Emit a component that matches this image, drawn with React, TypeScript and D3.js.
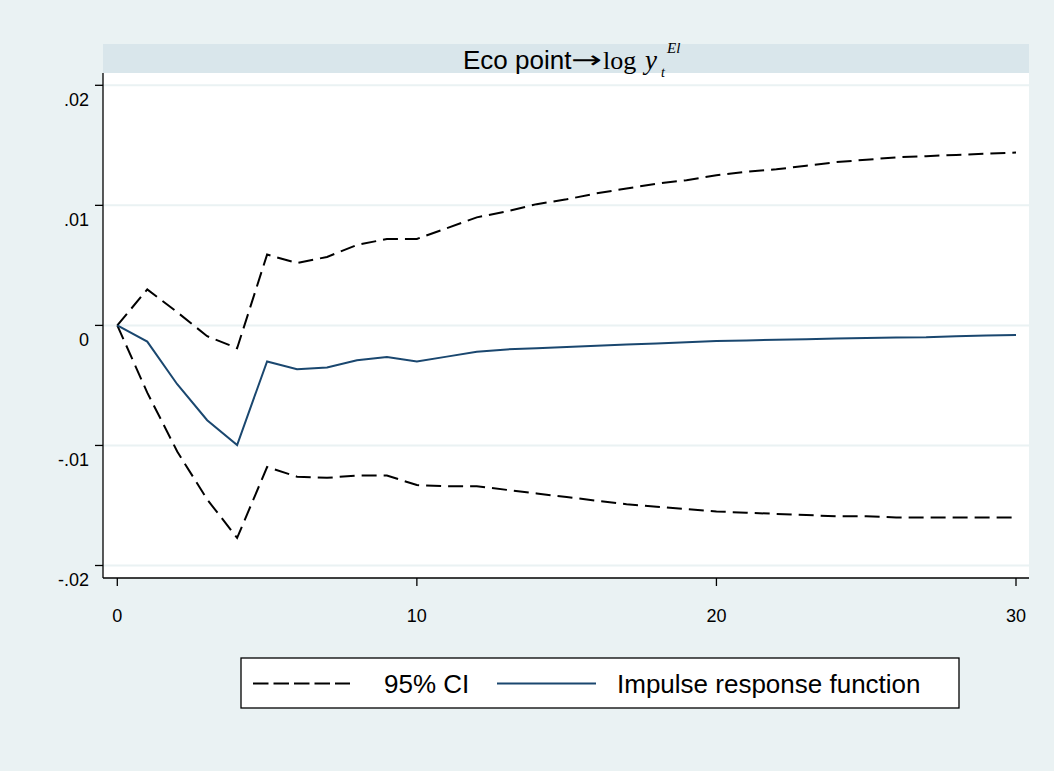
import React from "react";
import * as d3 from "d3";

// steps 0..30
const steps = d3.range(0, 31);

// impulse response function
const irf = [
  0, -0.00135, -0.0049, -0.0079, -0.00996, -0.003, -0.00365, -0.0035, -0.0029, -0.00263,
  -0.003, -0.0026, -0.0022, -0.002, -0.0019, -0.0018, -0.0017, -0.0016, -0.0015, -0.0014,
  -0.0013, -0.00125, -0.0012, -0.00115, -0.0011, -0.00105, -0.001, -0.00098, -0.0009, -0.00085,
  -0.0008,
];

// 95% CI upper / lower
const ciUpper = [
  0, 0.003, 0.0011, -0.0009, -0.0019, 0.0059, 0.0052, 0.0057, 0.0067, 0.0072,
  0.0072, 0.0081, 0.009, 0.0095, 0.0101, 0.0105, 0.011, 0.0114, 0.0118, 0.0121,
  0.0125, 0.0128, 0.013, 0.0133, 0.0136, 0.0138, 0.014, 0.0141, 0.0142, 0.0143,
  0.0144,
];
const ciLower = [
  0, -0.0056, -0.0105, -0.0145, -0.0177, -0.0118, -0.0126, -0.0127, -0.0125, -0.0125,
  -0.0133, -0.0134, -0.0134, -0.0137, -0.014, -0.0143, -0.0146, -0.0149, -0.0151, -0.0153,
  -0.0155, -0.0156, -0.0157, -0.0158, -0.0159, -0.0159, -0.016, -0.016, -0.016, -0.016,
  -0.016,
];

const yTicks = [0.02, 0.01, 0, -0.01, -0.02];
const yTickLabels = [".02", ".01", "0", "-.01", "-.02"];
const xTicks = [0, 10, 20, 30];

const legendLabels = ["95% CI", "Impulse response function"];

const W = 1054;
const H = 771;
const plotL = 103, plotR = 1029, plotT = 73, plotB = 578;   // 흰색 plot 영역
const bandT = 44;                                           // 제목 띠 위쪽

const BG = "#eaf2f3";
const BAND = "#d9e6eb";
const NAVY = "#1a476f";
const SANS = "'Liberation Sans', Arial, sans-serif";
const SERIF = "'Liberation Serif', 'Times New Roman', serif";

export default function App() {
  const x = d3.scaleLinear().domain([0, 30]).range([117.3, 1016]);
  const y = d3.scaleLinear().domain([-0.02, 0.02]).range([565.5, 85.3]);

  const line = d3.line<number>()
    .x((d, i) => x(steps[i]))
    .y((d) => y(d));

  return (
    <div style={{ position: "absolute", left: 0, top: 0 }}>
      <svg width={W} height={H} style={{ display: "block" }}>
        <rect x={0} y={0} width={W} height={H} fill={BG} />

        {/* plot region */}
        <rect x={plotL} y={plotT} width={plotR - plotL} height={plotB - plotT} fill="#fff" />
        {yTicks.map((t) => (
          <line key={"g" + t} x1={plotL} x2={plotR} y1={y(t)} y2={y(t)} stroke={BG} strokeWidth={2} />
        ))}

        {/* series */}
        <path d={line(ciUpper) ?? ""} fill="none" stroke="#000" strokeWidth={2} strokeDasharray="15,7" />
        <path d={line(ciLower) ?? ""} fill="none" stroke="#000" strokeWidth={2} strokeDasharray="15,7" />
        <path d={line(irf) ?? ""} fill="none" stroke={NAVY} strokeWidth={2} />

        {/* title band (subscript hangs into plot) */}
        <rect x={plotL} y={bandT} width={plotR - plotL} height={plotT - bandT} fill={BAND} />
        <g fill="#000">
          <text x={463} y={69} fontSize={26} fontFamily={SANS}>Eco point</text>
          <text x={571} y={68} fontSize={24} fontFamily="'DejaVu Sans', sans-serif" textLength={31} lengthAdjust="spacingAndGlyphs">→</text>
          <text x={603} y={69} fontSize={26} fontFamily={SERIF}>log</text>
          <text x={645} y={69} fontSize={27} fontFamily={SERIF} fontStyle="italic">y</text>
          <text x={661} y={77} fontSize={14} fontFamily={SERIF} fontStyle="italic">t</text>
          <text x={667} y={53} fontSize={15} fontFamily={SERIF} fontStyle="italic">El</text>
        </g>

        {/* axes */}
        <line x1={plotL} x2={plotL} y1={plotT} y2={plotB} stroke="#000" strokeWidth={1.3} />
        <line x1={plotL} x2={plotR} y1={plotB} y2={plotB} stroke="#000" strokeWidth={1.3} />
        {yTicks.map((t, i) => (
          <g key={"y" + t}>
            <line x1={plotL - 8} x2={plotL} y1={y(t)} y2={y(t)} stroke="#000" strokeWidth={1.3} />
            <text x={89} y={y(t) + 20.5} textAnchor="end" fontSize={18} fontFamily={SANS} fill="#000">
              {yTickLabels[i]}
            </text>
          </g>
        ))}
        {xTicks.map((t) => (
          <g key={"x" + t}>
            <line x1={x(t)} x2={x(t)} y1={plotB} y2={plotB + 8} stroke="#000" strokeWidth={1.3} />
            <text x={x(t)} y={622} textAnchor="middle" fontSize={18} fontFamily={SANS} fill="#000">
              {t}
            </text>
          </g>
        ))}

        {/* legend */}
        <rect x={241} y={658} width={718} height={50} fill="#fff" stroke="#000" strokeWidth={1.3} />
        <line x1={253} x2={350} y1={683.5} y2={683.5} stroke="#000" strokeWidth={2} strokeDasharray="15.5,5" />
        <text x={384} y={693} fontSize={26} fontFamily={SANS} fill="#000">{legendLabels[0]}</text>
        <line x1={497} x2={596} y1={683.5} y2={683.5} stroke={NAVY} strokeWidth={2} />
        <text x={617} y={693} fontSize={26} fontFamily={SANS} fill="#000">{legendLabels[1]}</text>
      </svg>
    </div>
  );
}
